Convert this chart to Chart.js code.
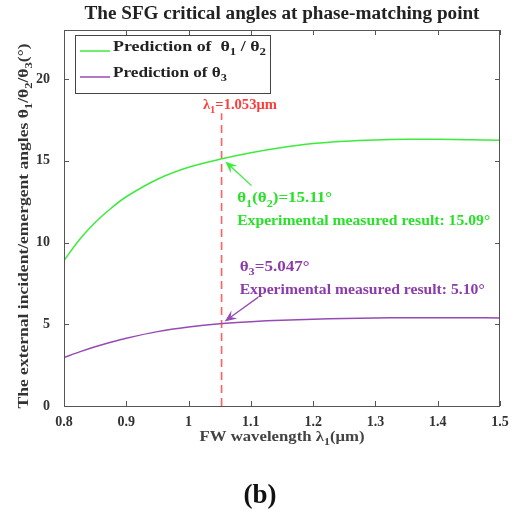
<!DOCTYPE html>
<html>
<head>
<meta charset="utf-8">
<script src="https://cdn.jsdelivr.net/npm/chart.js@4/dist/chart.umd.min.js"></script>
<style>
  html, body { margin: 0; padding: 0; background: #fff; }
  #wrap { width: 515px; height: 518px; }
</style>
</head>
<body>
<div id="wrap"><canvas id="c" width="515" height="518"></canvas></div>
<script>
// ---- data ----
const lambda  = [0.80, 0.825, 0.85, 0.875, 0.90, 0.95, 1.00, 1.05, 1.10, 1.15, 1.20, 1.25, 1.30, 1.35, 1.40, 1.45, 1.50];
const theta12 = [8.90, 10.18, 11.22, 12.08, 12.80, 13.87, 14.60, 15.09, 15.49, 15.81, 16.05, 16.19, 16.27, 16.31, 16.31, 16.29, 16.25];
const theta3  = [2.97, 3.31, 3.62, 3.90, 4.15, 4.55, 4.83, 5.03, 5.16, 5.25, 5.31, 5.355, 5.385, 5.40, 5.405, 5.40, 5.39];
const markerLambda = 1.053;
const markerTopValue = 17.9;
const xTicks = [0.8, 0.9, 1.0, 1.1, 1.2, 1.3, 1.4, 1.5];
const yTicks = [0, 5, 10, 15, 20];

// ---- annotation placement (data units) ----
const annot = {
  greenArrow:  { from: [1.101, 13.48], to: [1.059, 14.96] },
  purpleArrow: { from: [1.112, 6.66],  to: [1.058, 5.17] },
  greenText1:  [1.078, 12.70],
  greenText2:  [1.078, 11.30],
  purpleText1: [1.082, 8.50],
  purpleText2: [1.082, 7.10],
  redText:     [1.023, 18.4]
};

const GREEN = 'rgb(60,235,60)';
const GREEN_TXT = 'rgb(40,225,40)';
const PURPLE = 'rgb(150,75,180)';
const PURPLE_TXT = 'rgb(140,60,170)';
const RED = 'rgb(255,60,60)';
const SERIF = '"Liberation Serif", "DejaVu Serif", serif';

function pts(xs, ys) { return xs.map((x, i) => ({ x: x, y: ys[i] })); }

function rich(ctx, segs, x, y, size, color, align, target) {
  // segs: [text, isSub]
  const sub = size * 0.72;
  let w = 0;
  segs.forEach(s => {
    ctx.font = 'bold ' + (s[1] ? sub : size) + 'px ' + SERIF;
    w += ctx.measureText(s[0]).width;
  });
  const sx = target ? target / w : 1;
  ctx.save();
  ctx.translate(x, y);
  ctx.scale(sx, 1);
  let cx = align === 'center' ? -w / 2 : 0;
  ctx.fillStyle = color;
  ctx.textBaseline = 'middle';
  ctx.textAlign = 'left';
  segs.forEach(s => {
    ctx.font = 'bold ' + (s[1] ? sub : size) + 'px ' + SERIF;
    ctx.fillText(s[0], cx, s[1] ? size * 0.35 : 0);
    cx += ctx.measureText(s[0]).width;
  });
  ctx.restore();
  return w * sx;
}

function arrow(ctx, x1, y1, x2, y2, color) {
  const ang = Math.atan2(y2 - y1, x2 - x1);
  const L = 12, W = 5, notch = 7.5;
  ctx.save();
  ctx.strokeStyle = color; ctx.fillStyle = color; ctx.lineWidth = 1.3;
  ctx.beginPath();
  ctx.moveTo(x1, y1);
  ctx.lineTo(x2 - Math.cos(ang) * notch, y2 - Math.sin(ang) * notch);
  ctx.stroke();
  ctx.translate(x2, y2); ctx.rotate(ang);
  ctx.beginPath();
  ctx.moveTo(0, 0);
  ctx.lineTo(-L, -W);
  ctx.lineTo(-notch, 0);
  ctx.lineTo(-L, W);
  ctx.closePath();
  ctx.fill();
  ctx.restore();
}

const decor = {
  id: 'decor',
  afterDatasetsDraw(chart) {
    const ctx = chart.ctx;
    const a = chart.chartArea;
    const xs = chart.scales.x, ys = chart.scales.y;
    const px = v => xs.getPixelForValue(v), py = v => ys.getPixelForValue(v);
    ctx.save();

    // box
    ctx.strokeStyle = '#555'; ctx.lineWidth = 1;
    ctx.strokeRect(a.left + 0.5, a.top + 0.5, a.right - a.left - 1, a.bottom - a.top);
    // inward ticks
    ctx.beginPath();
    xTicks.forEach(v => {
      const x = Math.round(px(v)) + 0.5;
      ctx.moveTo(x, a.bottom); ctx.lineTo(x, a.bottom - 5);
      ctx.moveTo(x, a.top); ctx.lineTo(x, a.top + 5);
    });
    yTicks.forEach(v => {
      const y = Math.round(py(v)) + 0.5;
      ctx.moveTo(a.left, y); ctx.lineTo(a.left + 5, y);
      ctx.moveTo(a.right, y); ctx.lineTo(a.right - 5, y);
    });
    ctx.stroke();

    // title
    rich(ctx, [['The SFG critical angles at phase-matching point', 0]], (a.left + a.right) / 2, 14, 18.5, '#222', 'center', 395);

    // x label
    rich(ctx, [['FW wavelength λ', 0], ['1', 1], ['(μm)', 0]], (a.left + a.right) / 2, 437, 15.5, '#444', 'center', 165);

    // y label
    ctx.save();
    ctx.translate(24, 226);
    ctx.rotate(-Math.PI / 2);
    rich(ctx, [['The external incident/emergent angles θ', 0], ['1', 1], ['/θ', 0], ['2', 1], ['/θ', 0], ['3', 1], ['(°)', 0]], 0, 0, 15.5, '#333', 'center', 365);
    ctx.restore();

    // (b)
    ctx.fillStyle = '#111';
    ctx.font = 'bold 27px ' + SERIF;
    ctx.textAlign = 'center'; ctx.textBaseline = 'middle';
    ctx.fillText('(b)', 260, 496);

    // legend
    ctx.fillStyle = '#fff';
    ctx.fillRect(75.5, 35.5, 195, 58);
    ctx.strokeStyle = '#444'; ctx.lineWidth = 1;
    ctx.strokeRect(75.5, 35.5, 195, 58);
    ctx.lineWidth = 1.5;
    ctx.strokeStyle = GREEN;
    ctx.beginPath(); ctx.moveTo(80, 51); ctx.lineTo(110, 51); ctx.stroke();
    ctx.strokeStyle = PURPLE;
    ctx.beginPath(); ctx.moveTo(80, 77); ctx.lineTo(110, 77); ctx.stroke();
    rich(ctx, [['Prediction of  θ', 0], ['1', 1], [' / θ', 0], ['2', 1]], 113, 47, 15.5, '#222', 'left', 153);
    rich(ctx, [['Prediction of θ', 0], ['3', 1]], 113, 73, 15.5, '#222', 'left', 114);

    // red label
    rich(ctx, [['λ', 0], ['1', 1], ['=1.053μm', 0]], px(annot.redText[0]), py(annot.redText[1]), 15, RED, 'left', 74);

    // annotation texts
    rich(ctx, [['θ', 0], ['1', 1], ['(θ', 0], ['2', 1], [')=15.11°', 0]], px(annot.greenText1[0]), py(annot.greenText1[1]), 15.5, GREEN_TXT, 'left', 95);
    rich(ctx, [['Experimental measured result: 15.09°', 0]], px(annot.greenText2[0]), py(annot.greenText2[1]), 14.5, GREEN_TXT, 'left', 253);
    rich(ctx, [['θ', 0], ['3', 1], ['=5.047°', 0]], px(annot.purpleText1[0]), py(annot.purpleText1[1]), 15.5, PURPLE_TXT, 'left', 70);
    rich(ctx, [['Experimental measured result: 5.10°', 0]], px(annot.purpleText2[0]), py(annot.purpleText2[1]), 14.5, PURPLE_TXT, 'left', 245);

    // arrows
    const g = annot.greenArrow, p = annot.purpleArrow;
    arrow(ctx, px(g.from[0]), py(g.from[1]), px(g.to[0]), py(g.to[1]), GREEN);
    arrow(ctx, px(p.from[0]), py(p.from[1]), px(p.to[0]), py(p.to[1]), PURPLE);

    ctx.restore();
  }
};

new Chart(document.getElementById('c'), {
  type: 'scatter',
  data: {
    datasets: [
      { label: 'Prediction of θ1 / θ2', data: pts(lambda, theta12), showLine: true, borderColor: GREEN, borderWidth: 1.5, pointRadius: 0, tension: 0.3 },
      { label: 'Prediction of θ3', data: pts(lambda, theta3), showLine: true, borderColor: PURPLE, borderWidth: 1.5, pointRadius: 0, tension: 0.3 },
      { label: 'λ1', data: [{ x: markerLambda, y: 0 }, { x: markerLambda, y: markerTopValue }], showLine: true, borderColor: 'rgb(255,95,95)', borderWidth: 1.6, borderDash: [8, 5], pointRadius: 0 }
    ]
  },
  options: {
    responsive: false,
    animation: false,
    layout: { padding: { top: 30, right: 15, left: 0, bottom: 0 } },
    plugins: { legend: { display: false }, tooltip: { enabled: false } },
    scales: {
      x: {
        type: 'linear', min: 0.8, max: 1.5,
        afterFit: s => { s.height = 112; },
        afterBuildTicks: s => { s.ticks = xTicks.map(v => ({ value: v })); },
        grid: { display: false }, border: { display: false },
        ticks: { padding: 0, color: '#333', font: { family: SERIF, size: 14, weight: 'bold' },
                 callback: v => String(Math.round(v * 10) / 10), maxRotation: 0, autoSkip: false }
      },
      y: {
        min: 0, max: 23,
        afterFit: s => { s.width = 64; },
        afterBuildTicks: s => { s.ticks = yTicks.map(v => ({ value: v })); },
        grid: { display: false }, border: { display: false },
        ticks: { padding: 6, color: '#333', font: { family: SERIF, size: 14, weight: 'bold' } }
      }
    }
  },
  plugins: [decor]
});
</script>
</body>
</html>
